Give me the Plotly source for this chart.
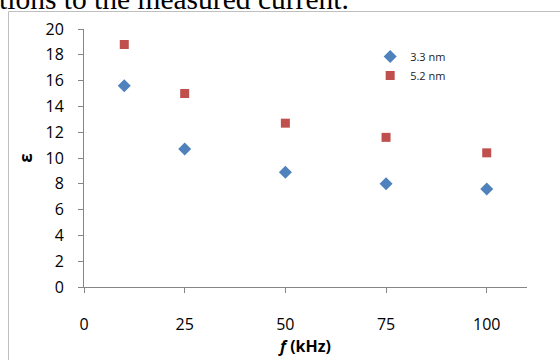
import plotly.graph_objects as go

freq = [10, 25, 50, 75, 100]
eps_33 = [15.6, 10.7, 8.9, 8.0, 7.6]
eps_52 = [18.8, 15.0, 12.7, 11.6, 10.4]
x_ticks = [0, 25, 50, 75, 100]
y_ticks = [0, 2, 4, 6, 8, 10, 12, 14, 16, 18, 20]

fig = go.Figure()
fig.add_trace(go.Scatter(x=freq, y=eps_33, mode="markers", name="3.3 nm",
                         marker=dict(symbol="diamond", size=10, color="#4f81bd")))
fig.add_trace(go.Scatter(x=freq, y=eps_52, mode="markers", name="5.2 nm",
                         marker=dict(symbol="square", size=9, color="#c0504d")))

font = "Open Sans, Liberation Sans, sans-serif"
fig.update_layout(
    width=560, height=360,
    margin=dict(l=84, r=33, t=29, b=73),
    paper_bgcolor="white", plot_bgcolor="white",
    showlegend=True,
    legend=dict(x=0.646, y=0.95, xanchor="left", yanchor="top",
                font=dict(family=font, size=11, color="#222"),
                bgcolor="rgba(0,0,0,0)", itemwidth=30),
    xaxis=dict(range=[0, 110], tickvals=x_ticks, ticks="outside", ticklen=5,
               tickcolor="#868686", showline=True, linecolor="#868686",
               showgrid=False, zeroline=False, automargin=False,
               ticklabelstandoff=18,
               tickfont=dict(family=font, size=16, color="black"),
               title=dict(text="<b><i>f</i> (kHz)</b>", standoff=6,
                          font=dict(family=font, size=16, color="black"))),
    yaxis=dict(range=[0, 20], tickvals=y_ticks, ticks="outside", ticklen=5,
               tickcolor="#868686", showline=True, linecolor="#868686",
               showgrid=False, zeroline=False, automargin=False,
               ticklabelstandoff=11,
               tickfont=dict(family=font, size=16, color="black"),
               title=dict(text="<b>ε</b>", standoff=8,
                          font=dict(family=font, size=17, color="black"))),
)

# chart frame (left and top edges visible)
fx0 = (8.5 - 84) / 443
fy1 = (287 - 11.5) / 258
fig.add_shape(type="line", xref="paper", yref="paper",
              x0=fx0, x1=fx0, y0=-0.5, y1=fy1, line=dict(color="#bfbfbf", width=1))
fig.add_shape(type="line", xref="paper", yref="paper",
              x0=fx0, x1=1.3, y0=fy1, y1=fy1, line=dict(color="#bfbfbf", width=1))

fig.add_annotation(text="tions to the measured current.", xref="paper", yref="paper",
                   x=(-3 - 84) / 443, y=(287 - 17.5) / 258, xanchor="left", yanchor="bottom",
                   showarrow=False,
                   font=dict(family="Liberation Serif, Times New Roman, serif", size=29.5, color="black"))

fig.write_html("out.html", config={"displayModeBar": False},
               post_script="document.body.style.margin='0';document.body.style.overflow='hidden';")
